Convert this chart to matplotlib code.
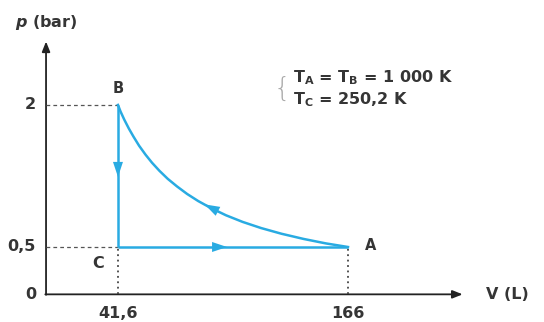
import matplotlib.pyplot as plt

# state points of the cycle
V_B, p_B = 41.6, 2.0
V_C, p_C = 41.6, 0.5
V_A, p_A = 166, 0.5

# A -> B curve
curve_V = [41.6, 43, 45, 47.5, 50, 53, 56.5, 60, 64, 68.5, 73.5, 79, 85, 92,
           100, 109, 119, 130, 142, 154, 166]
curve_p = [2.0, 1.93, 1.845, 1.75, 1.665, 1.57, 1.475, 1.39, 1.305, 1.22, 1.14, 1.06,
           0.985, 0.91, 0.835, 0.765, 0.70, 0.64, 0.585, 0.538, 0.5]

x_ticks = [41.6, 166]
x_tick_labels = ['41,6', '166']
y_ticks = [0, 0.5, 2]
y_tick_labels = ['0', '0,5', '2']

plt.rcParams['font.family'] = ['DejaVu Sans']
plt.rcParams['mathtext.fontset'] = 'custom'
plt.rcParams['mathtext.rm'] = 'DejaVu Sans:bold'
plt.rcParams['mathtext.it'] = 'DejaVu Sans:italic:bold'
plt.rcParams['mathtext.bf'] = 'DejaVu Sans:bold'
plt.rcParams['mathtext.default'] = 'rm'

blue = '#29abe2'
ink = '#353535'
fs = 11.5

fig = plt.figure(figsize=(5.44, 3.22), dpi=100)
ax = fig.add_axes([0, 0, 1, 1])
ax.set_xlim(-22.2, 272.0)
ax.set_ylim(-0.292, 3.108)
ax.axis('off')

x0 = 2.7  # where the vertical axis is drawn
# axes with arrow heads
ax_arr = dict(arrowstyle='-|>,head_length=0.5,head_width=0.2', color='#222222', lw=1.3,
              mutation_scale=12, shrinkA=0, shrinkB=0)
ax.annotate('', xy=(x0, 2.67), xytext=(x0, -0.005), zorder=1, arrowprops=ax_arr)
ax.annotate('', xy=(228, 0), xytext=(x0 - 0.4, 0), zorder=1, arrowprops=ax_arr)

# guide lines
ax.plot([x0, V_B], [p_B, p_B], ls=(0, (3, 2.5)), color='#555555', lw=0.9)
ax.plot([x0, V_C], [p_C, p_C], ls=(0, (3, 2.5)), color='#555555', lw=0.9)
ax.plot([V_C, V_C], [0, p_C], ls=(0, (1, 2)), color='#444444', lw=1.3)
ax.plot([V_A, V_A], [0, p_A], ls=(0, (1, 2)), color='#444444', lw=1.3)

# cycle
ax.plot([V_B, V_C], [p_B, p_C], color=blue, lw=1.8, solid_capstyle='butt')
ax.plot([V_C, V_A], [p_C, p_A], color=blue, lw=1.8, solid_capstyle='butt')
ax.plot(curve_V, curve_p, color=blue, lw=1.8, solid_joinstyle='round')

# direction arrows
arr = dict(arrowstyle='-|>,head_length=0.6,head_width=0.2', color=blue, lw=0,
           mutation_scale=18, shrinkA=0, shrinkB=0)
ax.annotate('', xy=(V_B, 1.24), xytext=(V_B, 1.42), arrowprops=arr)
ax.annotate('', xy=(100.6, p_C), xytext=(90, p_C), arrowprops=arr)
ax.annotate('', xy=(88.5, 0.95), xytext=(97.5, 0.858), arrowprops=arr)

# tick labels
for v, lab in zip(x_ticks, x_tick_labels):
    ax.text(v, -0.207, lab, ha='center', va='center', fontsize=fs, color=ink, fontweight='bold')
for p, lab in zip(y_ticks, y_tick_labels):
    ax.text(-2.75, p, lab, ha='right', va='center', fontsize=fs, color=ink, fontweight='bold')

# axis titles
ax.text(x0, 2.87, r'$\mathit{p}$ (bar)', ha='center', va='center', fontsize=fs, color=ink, fontweight='bold')
ax.text(252, 0.0, 'V (L)', ha='center', va='center', fontsize=fs, color=ink, fontweight='bold')

# point labels
ax.text(V_B, 2.17, 'B', ha='center', va='center', fontsize=10.5, color=ink, fontweight='bold')
ax.text(30.8, 0.33, 'C', ha='center', va='center', fontsize=fs, color=ink, fontweight='bold')
ax.text(178, 0.52, 'A', ha='center', va='center', fontsize=10.5, color=ink, fontweight='bold')

# temperatures
ax.text(130.5, 2.17, '{', ha='center', va='center', fontsize=19, color='#aaaaaa', fontweight='light')
ax.text(136.2, 2.285, r'T$_A$ = T$_B$ = 1 000 K', ha='left', va='center', fontsize=fs, color=ink, fontweight='bold')
ax.text(136.2, 2.052, r'T$_C$ = 250,2 K', ha='left', va='center', fontsize=fs, color=ink, fontweight='bold')

fig.savefig('out.png', dpi=100)
plt.close(fig)
